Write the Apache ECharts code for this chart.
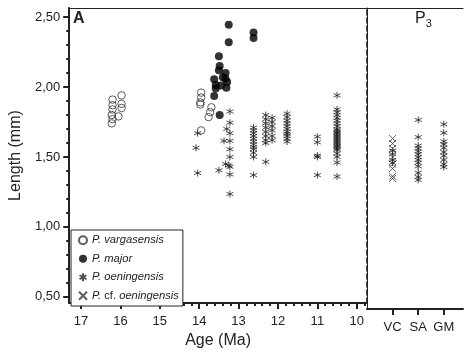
<!DOCTYPE html>
<html>
<head>
<meta charset="utf-8">
<script src="https://cdn.jsdelivr.net/npm/echarts@6/dist/echarts.min.js"></script>
<style>
  html, body { margin: 0; padding: 0; background: #fff; }
  #chart { width: 468px; height: 354px; }
</style>
</head>
<body>
<div id="chart"></div>
<script>
// Tooth length (mm) against age (Ma), plus three undated localities on the right panel.
const ageTicks = [10, 11, 12, 13, 14, 15, 16, 17];
const lengthTicks = [0.5, 1.0, 1.5, 2.0, 2.5];
const localities = ['VC', 'SA', 'GM'];

// [age, length] pairs
const vargasensis = [
  [16.2, 1.91], [16.2, 1.87], [16.2, 1.84], [16.22, 1.80], [16.2, 1.77], [16.22, 1.74],
  [15.97, 1.94], [15.97, 1.88], [15.97, 1.85], [16.05, 1.79],
  [13.95, 1.96], [13.95, 1.925], [13.97, 1.89], [13.97, 1.875],
  [13.69, 1.855], [13.72, 1.82], [13.76, 1.785], [13.95, 1.69]
];

const major = [
  [13.25, 2.445], [13.25, 2.32], [12.62, 2.39], [12.62, 2.35],
  [13.5, 2.22], [13.48, 2.15], [13.5, 2.12], [13.33, 2.10], [13.4, 2.07],
  [13.33, 2.06], [13.62, 2.055], [13.29, 2.035], [13.58, 2.015], [13.45, 2.01],
  [13.58, 1.99], [13.31, 1.995], [13.62, 1.935], [13.48, 1.80]
];

const oeningensis = [
  [14.04, 1.67], [14.08, 1.565], [14.04, 1.385],
  [13.5, 1.405], [13.37, 1.615], [13.33, 1.45], [13.3, 1.70], [13.25, 1.44],
  [13.22, 1.825], [13.22, 1.745], [13.22, 1.67], [13.22, 1.615], [13.22, 1.555],
  [13.22, 1.50], [13.22, 1.43], [13.22, 1.375], [13.22, 1.235],
  [12.62, 1.71], [12.62, 1.69], [12.62, 1.67], [12.62, 1.65], [12.62, 1.63],
  [12.62, 1.61], [12.62, 1.59], [12.62, 1.57], [12.62, 1.555], [12.62, 1.53],
  [12.62, 1.50], [12.62, 1.37],
  [12.31, 1.80], [12.31, 1.77], [12.31, 1.74], [12.31, 1.71], [12.31, 1.68],
  [12.31, 1.65], [12.31, 1.62], [12.31, 1.60], [12.31, 1.465],
  [12.15, 1.78], [12.15, 1.75], [12.15, 1.72], [12.15, 1.69], [12.15, 1.65], [12.15, 1.62],
  [11.77, 1.81], [11.77, 1.785], [11.77, 1.76], [11.77, 1.74], [11.77, 1.72],
  [11.77, 1.70], [11.77, 1.68], [11.77, 1.665], [11.77, 1.65], [11.77, 1.63], [11.77, 1.61],
  [11.0, 1.645], [11.0, 1.605], [11.0, 1.51], [11.0, 1.50], [11.0, 1.37],
  [10.5, 1.94], [10.5, 1.84], [10.5, 1.82], [10.5, 1.80], [10.5, 1.78], [10.5, 1.76],
  [10.5, 1.74], [10.5, 1.72], [10.5, 1.70], [10.5, 1.69], [10.5, 1.68], [10.5, 1.67],
  [10.5, 1.66], [10.5, 1.65], [10.5, 1.64], [10.5, 1.63], [10.5, 1.62], [10.5, 1.61],
  [10.5, 1.60], [10.5, 1.59], [10.5, 1.58], [10.5, 1.57], [10.5, 1.56], [10.5, 1.55],
  [10.5, 1.525], [10.5, 1.50], [10.5, 1.46], [10.5, 1.36]
];

// lengths per locality (right panel)
const vcOeningensis = [1.565, 1.54, 1.50, 1.48];
const vcCfOeningensis = [1.65, 1.615, 1.58, 1.52, 1.47, 1.44, 1.385, 1.37];
const saOeningensis = [1.78, 1.66, 1.60, 1.58, 1.56, 1.54, 1.52, 1.50, 1.48, 1.455, 1.41, 1.38, 1.36];
const gmOeningensis = [1.75, 1.69, 1.63, 1.61, 1.585, 1.555, 1.53, 1.50, 1.47, 1.45];

const ink = '#222';
const font = 'Liberation Sans, Arial, sans-serif';

const minorAge = [];
for (let a = 98; a <= 172; a += 2) if (a % 10 !== 0) minorAge.push(a / 10);
const minorLen = [];
for (let l = 6; l <= 25; l++) if (l % 5 !== 0) minorLen.push(l / 10);

const localityPoints = (vals, idx) => vals.map(v => [idx + 1, v]);
const rightOeningensis = [
  ...localityPoints(vcOeningensis, 0),
  ...localityPoints(saOeningensis, 1),
  ...localityPoints(gmOeningensis, 2)
];
const rightCf = localityPoints(vcCfOeningensis, 0);

const ASTERISK = 'path://M5 0L5 10M0.67 2.5L9.33 7.5M0.67 7.5L9.33 2.5';
const CROSS = 'path://M0 0L10 10M0 10L10 0';

const Y_MIN = 0.455, Y_MAX = 2.565;
const hidden = { show: false };

const chart = echarts.init(document.getElementById('chart'), null, { renderer: 'canvas' });

chart.setOption({
  animation: false,
  backgroundColor: '#fff',
  grid: [
    { left: 64, top: 8, width: 303, height: 301 },
    { left: 367, top: 8, width: 96, height: 301 }
  ],
  xAxis: [
    {
      gridIndex: 0, type: 'value', position: 'bottom', inverse: true, min: 9.74, max: 17.3,
      axisLine: { lineStyle: { color: ink, width: 2 } },
      axisTick: { customValues: ageTicks, length: 6, lineStyle: { color: ink, width: 2 } },
      axisLabel: { customValues: ageTicks, color: ink, fontSize: 13, fontFamily: font, margin: 12 },
      splitLine: hidden,
      name: 'Age (Ma)', nameLocation: 'middle', nameGap: 29,
      nameTextStyle: { color: ink, fontSize: 16, fontFamily: font }
    },
    {
      gridIndex: 1, type: 'value', position: 'bottom', min: 0, max: 3.75,
      axisLine: { lineStyle: { color: ink, width: 2 } },
      axisTick: { customValues: [1, 2, 3], length: 6, lineStyle: { color: ink, width: 2 } },
      axisLabel: {
        customValues: [1, 2, 3], color: ink, fontSize: 13, fontFamily: font, margin: 12,
        formatter: v => localities[Math.round(v) - 1]
      },
      splitLine: hidden
    },
    {
      gridIndex: 0, type: 'value', position: 'bottom', inverse: true, min: 9.74, max: 17.3,
      axisLine: hidden,
      axisTick: { customValues: minorAge, length: 3, lineStyle: { color: ink, width: 2 } },
      axisLabel: hidden, splitLine: hidden
    },
    {
      gridIndex: 0, type: 'value', position: 'top', inverse: true, min: 9.74, max: 17.3,
      axisLine: { lineStyle: { color: ink, width: 1 } },
      axisTick: hidden, axisLabel: hidden, splitLine: hidden
    },
    {
      gridIndex: 1, type: 'value', position: 'top', min: 0, max: 3.75,
      axisLine: { lineStyle: { color: ink, width: 1 } },
      axisTick: hidden, axisLabel: hidden, splitLine: hidden
    }
  ],
  yAxis: [
    {
      gridIndex: 0, type: 'value', position: 'left', min: Y_MIN, max: Y_MAX,
      axisLine: { show: true, lineStyle: { color: ink, width: 2 } },
      axisTick: { show: true, customValues: lengthTicks, length: 6, lineStyle: { color: ink, width: 2 } },
      axisLabel: {
        customValues: lengthTicks, color: ink, fontSize: 13, fontFamily: font, margin: 9,
        formatter: v => v.toFixed(2).replace('.', ',')
      },
      splitLine: hidden,
      name: 'Length (mm)', nameLocation: 'middle', nameGap: 41,
      nameTextStyle: { color: ink, fontSize: 16, fontFamily: font }
    },
    {
      gridIndex: 0, type: 'value', position: 'left', min: Y_MIN, max: Y_MAX,
      axisLine: hidden,
      axisTick: { show: true, customValues: minorLen, length: 3, lineStyle: { color: ink, width: 2 } },
      axisLabel: hidden, splitLine: hidden
    },
    {
      gridIndex: 0, type: 'value', position: 'right', min: Y_MIN, max: Y_MAX,
      axisLine: { show: true, lineStyle: { color: '#111', width: 1.5, type: [5, 3] } },
      axisTick: hidden, axisLabel: hidden, splitLine: hidden
    },
    {
      gridIndex: 1, type: 'value', position: 'right', min: Y_MIN, max: Y_MAX,
      axisLine: { show: true, lineStyle: { color: ink, width: 1 } },
      axisTick: hidden, axisLabel: hidden, splitLine: hidden
    }
  ],
  legend: {
    orient: 'vertical', left: 71, top: 230,
    data: ['P. vargasensis', 'P. major', 'P. oeningensis', 'P. cf. oeningensis'],
    itemWidth: 8, itemHeight: 8, itemGap: 6,
    padding: [4, 4, 4, 7],
    borderColor: ink, borderWidth: 1,
    backgroundColor: '#fff',
    selectedMode: false,
    textStyle: {
      color: ink, fontSize: 11.2, fontFamily: font, fontStyle: 'italic', lineHeight: 12.5,
      rich: { n: { fontStyle: 'normal', fontSize: 11.2, fontFamily: font, color: ink, lineHeight: 12.5 } }
    },
    formatter: name => name.replace('cf.', '{n|cf.}')
  },
  series: [
    {
      name: 'P. oeningensis', type: 'scatter', xAxisIndex: 0, yAxisIndex: 0,
      symbol: ASTERISK, symbolSize: 7,
      itemStyle: { color: ink, borderColor: ink, borderWidth: 1 },
      emphasis: { disabled: true },
      data: oeningensis
    },
    {
      name: 'P. oeningensis', type: 'scatter', xAxisIndex: 1, yAxisIndex: 3,
      symbol: ASTERISK, symbolSize: 7,
      itemStyle: { color: ink, borderColor: ink, borderWidth: 1 },
      emphasis: { disabled: true },
      data: rightOeningensis
    },
    {
      name: 'P. cf. oeningensis', type: 'scatter', xAxisIndex: 1, yAxisIndex: 3,
      symbol: CROSS, symbolSize: 7,
      itemStyle: { color: ink, borderColor: '#333', borderWidth: 1 },
      emphasis: { disabled: true },
      data: rightCf
    },
    {
      name: 'P. vargasensis', type: 'scatter', xAxisIndex: 0, yAxisIndex: 0,
      symbol: 'circle', symbolSize: 7.5,
      itemStyle: { color: 'rgba(255,255,255,0)', borderColor: '#333', borderWidth: 1 },
      emphasis: { disabled: true },
      data: vargasensis
    },
    {
      name: 'P. major', type: 'scatter', xAxisIndex: 0, yAxisIndex: 0,
      symbol: 'circle', symbolSize: 8,
      itemStyle: { color: '#000', borderColor: '#000', borderWidth: 0 },
      emphasis: { disabled: true },
      data: major
    }
  ],
  graphic: [
    {
      type: 'text', left: 73, top: 11,
      style: { text: 'A', fontSize: 16, fontWeight: 'bold', fontFamily: font, fill: ink }
    },
    {
      type: 'text', left: 415, top: 11,
      style: {
        text: '{p|P}{s|3}', fill: ink,
        rich: {
          p: { fontSize: 16, fontFamily: font, fill: ink, color: ink },
          s: { fontSize: 11, fontFamily: font, fill: ink, color: ink, padding: [10, 0, 0, 0] }
        }
      }
    }
  ]
});
</script>
</body>
</html>
